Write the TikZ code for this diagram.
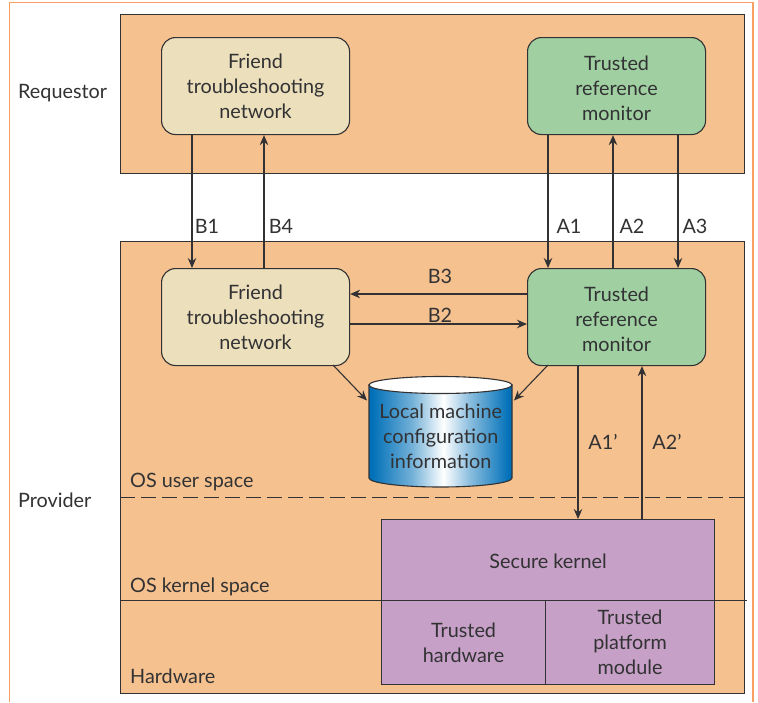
\documentclass[tikz,border=0pt]{standalone}
\usepackage{fontspec}
\setmainfont{Lato}
\usetikzlibrary{arrows.meta}
\definecolor{peach}{RGB}{245,193,142}
\definecolor{framec}{RGB}{248,160,100}
\definecolor{ink}{RGB}{50,50,52}
\definecolor{cream}{RGB}{236,223,187}
\definecolor{mint}{RGB}{160,208,161}
\definecolor{mauve}{RGB}{198,160,198}
\definecolor{cylblue}{RGB}{0,112,184}
\pgfdeclarehorizontalshading{cylshade}{100bp}{
  color(0bp)=(cylblue);
  color(26bp)=(cylblue);
  color(40bp)=(cylblue!55!white);
  color(51bp)=(white);
  color(60bp)=(cylblue!45!white);
  color(74bp)=(cylblue);
  color(100bp)=(cylblue)}
\tikzset{
  panel/.style={draw=ink,line width=1pt,fill=peach,anchor=north west,inner sep=0pt},
  roundbox/.style={draw=ink,line width=1.1pt,rounded corners=14pt,anchor=north west,inner sep=0pt,align=center,text=ink,font=\fontsize{19.8}{25}\selectfont},
  friendbox/.style={roundbox,fill=cream,minimum width=188pt,minimum height=97pt},
  monitorbox/.style={roundbox,fill=mint,minimum width=178pt,minimum height=97pt},
  hwbox/.style={draw=ink,line width=1.1pt,fill=mauve,anchor=north west,inner sep=0pt,align=center,text=ink,font=\fontsize{19.8}{25}\selectfont},
  lab/.style={text=ink,inner sep=0pt,font=\fontsize{19.8}{22}\selectfont},
  sidelab/.style={lab,anchor=west},
  arr/.style={draw=ink,line width=1.1pt,-{Stealth[length=10pt,width=8.5pt]}},
  rule/.style={draw=ink,line width=1pt}
}
\newcommand{\lowfirst}{\rule{0pt}{20pt}}
\begin{document}
\begin{tikzpicture}[x=1pt,y=-1pt]
\useasboundingbox (0,0) rectangle (758,702);
\fill[white] (0,0) rectangle (758,702);
% outer frame
\draw[framec,line width=1.2pt] (9.5,702) -- (9.5,2.5) -- (753,2.5) -- (753,702);
% panels
\node[panel,minimum width=624pt,minimum height=159pt] (req) at (120,14) {};
\node[panel,minimum width=624pt,minimum height=452pt] (prov) at (120,241) {};
% rows
\node[friendbox] (rf) at (161,37) {Friend\\troubleshooting\\network};
\node[monitorbox] (rm) at (527,37) {\lowfirst Trusted\\reference\\monitor};
\node[friendbox] (pf) at (161,268) {Friend\\troubleshooting\\network};
\node[monitorbox] (pm) at (527,268) {\lowfirst Trusted\\reference\\monitor};
% cylinder
\path[shade,shading=cylshade,draw=ink,line width=1.1pt]
  (369,385) -- (369,478) arc[start angle=180,end angle=360,x radius=71.5,y radius=-9] -- (512,385) -- cycle;
\draw[ink,line width=1.1pt,fill=white] (440.5,385) ellipse[x radius=71.5,y radius=8.5];
\node[inner sep=0pt,align=center,text=ink,font=\fontsize{19.8}{25}\selectfont,minimum width=143pt,minimum height=94pt,anchor=north west] (cyl) at (369,389) {Local machine\\configuration\\information};
% kernel
\node[hwbox,minimum width=333pt,minimum height=81pt] (sk) at (381,519) {\rule{0pt}{17pt}Secure kernel};
\node[hwbox,minimum width=164pt,minimum height=84pt] (th) at (381,600) {Trusted\\hardware};
\node[hwbox,minimum width=169pt,minimum height=84pt] (tp) at (545,600) {Trusted\\platform\\module};
% layer lines
\coordinate (dl) at (120,497.5);
\coordinate (dr) at (745,497.5);
\coordinate (sl) at (120,600);
\coordinate (sr) at (747,600);
\draw[rule,dash pattern=on 15pt off 6pt] (dl) -- (dr);
\draw[rule] (sl) -- (sr);
% connector columns
\coordinate (xb1) at (192,0);
\coordinate (xb4) at (264,0);
\coordinate (xa1) at (548,0);
\coordinate (xa2) at (613,0);
\coordinate (xa3) at (678,0);
\coordinate (xk1) at (578,0);
\coordinate (xk2) at (642,0);
\coordinate (yb3) at (0,294);
\coordinate (yb2) at (0,324);
\draw[arr] (xb1 |- rf.south) -- (xb1 |- pf.north);
\draw[arr] (xb4 |- pf.north) -- (xb4 |- rf.south);
\draw[arr] (xa1 |- rm.south) -- (xa1 |- pm.north);
\draw[arr] (xa2 |- pm.north) -- (xa2 |- rm.south);
\draw[arr] (xa3 |- rm.south) -- (xa3 |- pm.north);
\draw[arr] (pm.west |- yb3) -- (pf.east |- yb3);
\draw[arr] (pf.east |- yb2) -- (pm.west |- yb2);
\draw[arr] (xk1 |- pm.south) -- (xk1 |- sk.north);
\draw[arr] (xk2 |- sk.north) -- (xk2 |- pm.south);
\coordinate (cl) at (367,400.5);
\coordinate (cr) at (514,400.5);
\coordinate (fs) at (333,365);
\coordinate (ms) at (548,365);
\draw[arr] (fs) -- (cl);
\draw[arr] (ms) -- (cr);
% labels
\node[lab] (lb1) at (207,226) {B1};
\node[lab] (lb4) at (281,226) {B4};
\node[lab] (la1) at (569,226) {A1};
\node[lab] (la2) at (632,226) {A2};
\node[lab] (la3) at (695,226) {A3};
\node[lab] (lb3) at (440,276) {B3};
\node[lab] (lb2) at (440,315) {B2};
\node[lab] (lk1) at (603,442) {A1'};
\node[lab] (lk2) at (667,442) {A2'};
\node[sidelab] (lreq) at (18,93.5) {Requestor};
\node[sidelab] (lprov) at (18,500) {Provider};
\node[sidelab] (lus) at (130,482) {OS user space};
\node[sidelab] (lks) at (130,587) {OS kernel space};
\node[sidelab] (lhw) at (130,676) {Hardware};
\end{tikzpicture}
\end{document}
